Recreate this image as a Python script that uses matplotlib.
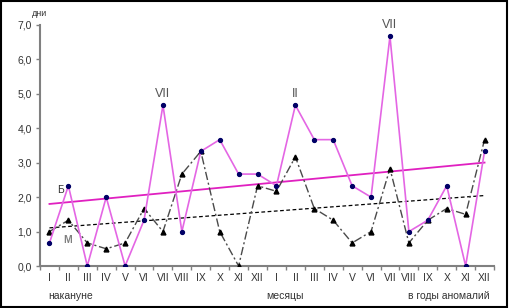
import numpy as np
import matplotlib
matplotlib.use("Agg")
from matplotlib import pyplot as plt

plt.rcParams['font.family'] = ['Liberation Sans', 'DejaVu Sans']

months = ["I", "II", "III", "IV", "V", "VI", "VII", "VIII", "IX", "X", "XI", "XII"]
labels = months + months
b_days = [0.67, 2.33, 0.0, 2.0, 0.0, 1.33, 4.67, 1.0, 3.33, 3.67, 2.67, 2.67,
          2.33, 4.67, 3.67, 3.67, 2.33, 2.0, 6.67, 1.0, 1.33, 2.33, 0.0, 3.33]
m_days = [1.0, 1.33, 0.67, 0.5, 0.67, 1.67, 1.0, 2.67, 3.33, 1.0, 0.0, 2.33,
          2.17, 3.17, 1.67, 1.33, 0.67, 1.0, 2.83, 0.67, 1.33, 1.67, 1.5, 3.67]
peaks = {7: "VII", 14: "II", 19: "VII"}

x = np.arange(1, len(b_days) + 1)
axis_col = "#808080"
text_col = "#333333"

fig = plt.figure(figsize=(5.09, 3.08), dpi=100)
ax = fig.add_axes([40 / 509, 42 / 308, 454 / 509, 241 / 308])

# линии тренда
kb = np.polyfit(x, b_days, 1)
km = np.polyfit(x, m_days, 1)
ax.plot(x, np.polyval(kb, x), color="#e020c0", lw=1.3, zorder=2)
ax.plot(x, np.polyval(km, x), color="black", lw=0.9, ls=(0, (3, 2)), zorder=2)

ax.plot(x, m_days, color="#4a4a4a", lw=1.0, ls=(0, (6, 2, 1.5, 2)),
        marker="^", ms=3.5, mfc="black", mec="black", zorder=3)
ax.plot(x, b_days, color="#e466e4", lw=1.2, marker="o", ms=2.8,
        mfc="#000066", mec="#000066", zorder=4)

for i, t in peaks.items():
    ax.text(i, b_days[i - 1] + 0.15, t, ha="center", va="bottom",
            fontsize=9, color="#555555")
ax.text(1.6, 2.2, "Б", fontsize=7.5, color=text_col, ha="center", va="center")
ax.text(1.95, 0.75, "М", fontsize=7.5, color="#808080", fontweight="bold",
        ha="center", va="center")

ax.set_xlim(0.5, 24.5)
ax.set_ylim(0, 7)
ax.set_yticks(np.arange(0, 7.1, 1.0))
ax.set_yticklabels([f"{v:.1f}".replace(".", ",") for v in np.arange(0, 7.1, 1.0)],
                   fontsize=7.5, color=text_col)
ax.set_xticks(x)
ax.set_xticklabels(labels, fontsize=7.5, color=text_col)
ax.set_xticks(np.arange(0.5, 25, 1), minor=True)
ax.tick_params(axis="x", which="major", length=0, pad=5)
ax.tick_params(axis="x", which="minor", length=3, color=axis_col, width=1)
ax.tick_params(axis="y", length=3, color=axis_col, width=1, pad=3)
for s in ["top", "right"]:
    ax.spines[s].set_visible(False)
for s in ["left", "bottom"]:
    ax.spines[s].set_color(axis_col)
    ax.spines[s].set_linewidth(1.5)

fig.text(32 / 509, 1 - 13 / 308, "дни", fontsize=6.5, color=text_col, va="center")
fig.text(48 / 509, 1 - 296 / 308, "накануне", fontsize=7.5, color=text_col, va="center")
fig.text(285 / 509, 1 - 296 / 308, "месяцы", fontsize=7.5, color=text_col,
         va="center", ha="center")
fig.text(490 / 509, 1 - 296 / 308, "в годы аномалий", fontsize=7.5, color=text_col,
         va="center", ha="right")

fig.patches.append(plt.Rectangle((0.002, 0.003), 0.994, 0.994, transform=fig.transFigure,
                                 fill=False, ec="black", lw=1.5))

fig.savefig("out.png", dpi=100)
